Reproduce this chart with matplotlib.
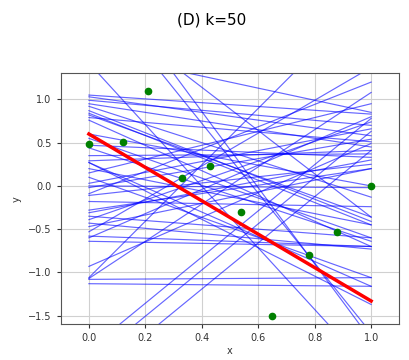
import numpy as np
import matplotlib.pyplot as plt

# observed points
px = [0.0, 0.12, 0.21, 0.33, 0.43, 0.54, 0.65, 0.78, 0.88, 1.0]
py = [0.48, 0.51, 1.10, 0.09, 0.23, -0.30, -1.50, -0.80, -0.53, 0.00]

# fitted line (value at x=0 and x=1)
fit_y0, fit_y1 = 0.60, -1.33

# 50 sampled lines: value at x=0 and at x=1
line_y0 = [1.05, 1.03, 0.99, 0.95, 0.92, 0.87, 0.84, 0.82, 0.79, 0.76,
           0.47, 0.44, 0.35, 0.29, 0.27, 0.03, 0.00, -0.02, -0.09, -0.11,
           -0.18, -0.28, -0.31, -0.35, -0.39, -0.43, -0.47, -0.53, -0.58, -0.60,
           -0.64, -0.93, -1.07, -1.08, -1.13, -1.89, -2.04, -2.26, 1.42, 2.34,
           2.62, 2.14, 1.55, -1.06, 0.27, 0.10, 0.55, 0.60, 0.20, 0.15]
line_y1 = [0.83, 0.58, 0.70, 0.45, -0.13, -0.41, -0.45, -0.36, 0.51, -0.70,
           0.33, -0.64, 0.37, 0.41, -1.16, 0.66, -0.02, 0.54, 1.20, 0.25,
           -0.24, 0.20, 0.30, -0.60, 0.74, -0.73, 0.20, 1.37, -0.70, 0.80,
           -0.70, 0.49, 1.08, -1.06, -1.16, 0.78, 0.63, 0.41, -2.14, -1.70,
           -1.78, -0.36, 0.85, 2.20, -1.37, -1.06, -0.60, 0.00, -0.45, 0.95]

fig = plt.figure(figsize=(4.1, 3.6), dpi=100)
ax = fig.add_axes([0.148, 0.099, 0.826, 0.697])

xs = np.array([0.0, 1.0])
for a, b in zip(line_y0, line_y1):
    ax.plot(xs, [a, b], color='b', alpha=0.6, lw=0.85)

ax.plot(xs, [fit_y0, fit_y1], color='r', lw=2.5)
ax.plot(px, py, 'o', color='green', markersize=4.5)

ax.set_xlim(-0.1, 1.1)
ax.set_ylim(-1.6, 1.3)
ax.set_xticks([0.0, 0.2, 0.4, 0.6, 0.8, 1.0])
ax.set_yticks([-1.5, -1.0, -0.5, 0.0, 0.5, 1.0])
ax.grid(True, color='#d0d0d0', lw=0.8)
ax.set_axisbelow(True)
ax.tick_params(labelsize=7, colors='#333333', length=3)
for s in ax.spines.values():
    s.set_color('#555555')
ax.set_xlabel('x', fontsize=7, color='#333333', labelpad=2)
ax.set_ylabel('y', fontsize=7, color='#333333', labelpad=5)

fig.suptitle('(D) k=50', x=0.515, y=0.965, fontsize=11)

plt.savefig('out.png', dpi=100)
